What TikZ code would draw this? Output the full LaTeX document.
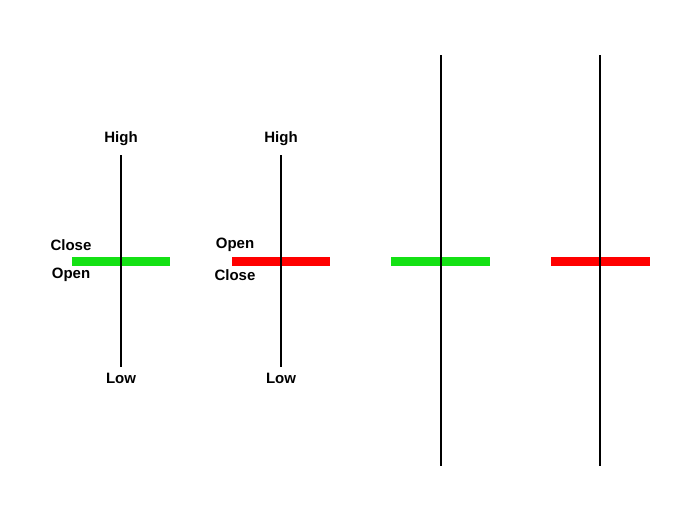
\documentclass[tikz,border=0pt]{standalone}
\usepackage{fontspec}
\setmainfont{Liberation Sans}
\begin{document}
\begin{tikzpicture}[x=1pt,y=-1pt,
  wick/.style={line width=1.8pt,black},
  bodyg/.style={line width=9pt,draw={rgb,255:red,20;green,225;blue,20}},
  bodyr/.style={line width=9pt,draw={rgb,255:red,255;green,0;blue,0}},
  lbl/.style={font=\bfseries\fontsize{15}{17}\selectfont,inner sep=0pt}]
\useasboundingbox (0,0) rectangle (696,522);
% candle 1
\coordinate (a1) at (121,155); \coordinate (a2) at (121,367);
\coordinate (g1) at (72,261); \coordinate (g2) at (170,261);
\draw[bodyg] (g1) -- (g2);
\draw[wick] (a1) -- (a2);
\node[lbl] (h1) at (121,139) {High};
\node[lbl] (l1) at (121,378) {Low};
\node[lbl] (c1) at (71,245) {Close};
\node[lbl] (o1) at (71,275) {Open};
% candle 2
\coordinate (b1) at (281,155); \coordinate (b2) at (281,367);
\coordinate (r1) at (232,261); \coordinate (r2) at (330,261);
\draw[bodyr] (r1) -- (r2);
\draw[wick] (b1) -- (b2);
\node[lbl] (h2) at (281,139) {High};
\node[lbl] (l2) at (281,378) {Low};
\node[lbl] (o2) at (235,245) {Open};
\node[lbl] (c2) at (235,275) {Close};
% candle 3
\coordinate (c3a) at (441,55); \coordinate (c3b) at (441,466);
\coordinate (g3a) at (391,261); \coordinate (g3b) at (490,261);
\draw[bodyg] (g3a) -- (g3b);
\draw[wick] (c3a) -- (c3b);
% candle 4
\coordinate (c4a) at (600,55); \coordinate (c4b) at (600,466);
\coordinate (r4a) at (551,261); \coordinate (r4b) at (650,261);
\draw[bodyr] (r4a) -- (r4b);
\draw[wick] (c4a) -- (c4b);
\end{tikzpicture}
\end{document}
